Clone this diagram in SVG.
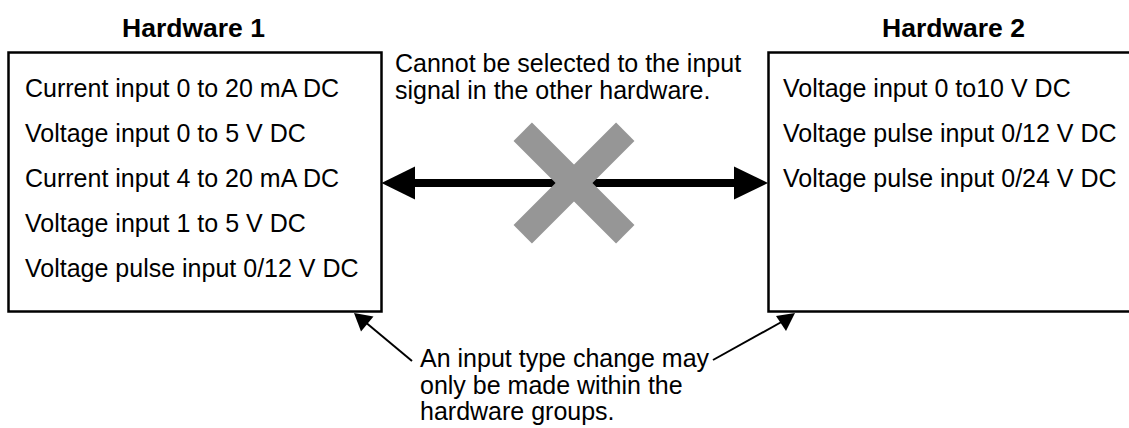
<svg xmlns="http://www.w3.org/2000/svg" width="1129" height="428" viewBox="0 0 1129 428">
  <style>
    text { font-family: "Liberation Sans", Arial, sans-serif; fill: #000; }
    .title { font-size: 26.5px; font-weight: bold; }
    .item { font-size: 25px; }
    .note { font-size: 25px; }
    .box { fill: #fff; stroke: #000; stroke-width: 2.5; }
    .thick { stroke: #000; stroke-width: 8; fill: none; }
    .thin { stroke: #000; stroke-width: 2; fill: none; }
    .head { fill: #000; }
    .cross { fill: #969696; }
  </style>
  <rect width="1129" height="428" fill="#fff"/>

  <g id="hardware1">
    <text class="title" x="122" y="36.5">Hardware 1</text>
    <rect class="box" x="8.5" y="52.5" width="373" height="259"/>
    <text class="item" x="25" y="97">Current input 0 to 20 mA DC</text>
    <text class="item" x="25" y="142">Voltage input 0 to 5 V DC</text>
    <text class="item" x="25" y="187">Current input 4 to 20 mA DC</text>
    <text class="item" x="25" y="232">Voltage input 1 to 5 V DC</text>
    <text class="item" x="25" y="277">Voltage pulse input 0/12 V DC</text>
  </g>

  <g id="hardware2">
    <text class="title" x="882" y="36.5">Hardware 2</text>
    <rect class="box" x="768.5" y="52.5" width="380" height="259"/>
    <text class="item" x="783" y="97">Voltage input 0 to10 V DC</text>
    <text class="item" x="783" y="142">Voltage pulse input 0/12 V DC</text>
    <text class="item" x="783" y="187">Voltage pulse input 0/24 V DC</text>
  </g>

  <g id="connectors">
    <line class="thick" x1="412" y1="183" x2="738" y2="183"/>
    <polygon class="head" points="381.5,183 415,166.5 415,199.5"/>
    <polygon class="head" points="768,183 734,166.5 734,199.5"/>
    <line class="thin" x1="412" y1="361" x2="364" y2="321"/>
    <polygon class="head" points="354,313 373.5,316.5 361,331.5"/>
    <line class="thin" x1="713" y1="360" x2="785" y2="320"/>
    <polygon class="head" points="795,313 776,316 786,331"/>
  </g>

  <g id="cross">
    <rect class="cross" x="501.5" y="170" width="145" height="26" transform="rotate(45 574 183)"/>
    <rect class="cross" x="501.5" y="170" width="145" height="26" transform="rotate(-45 574 183)"/>
  </g>

  <g id="note-top">
    <text class="note" x="395" y="72">Cannot be selected to the input</text>
    <text class="note" x="395" y="99">signal in the other hardware.</text>
  </g>

  <g id="note-bottom">
    <text class="note" x="420" y="367">An input type change may</text>
    <text class="note" x="420" y="393.5">only be made within the</text>
    <text class="note" x="420" y="420">hardware groups.</text>
  </g>
</svg>
